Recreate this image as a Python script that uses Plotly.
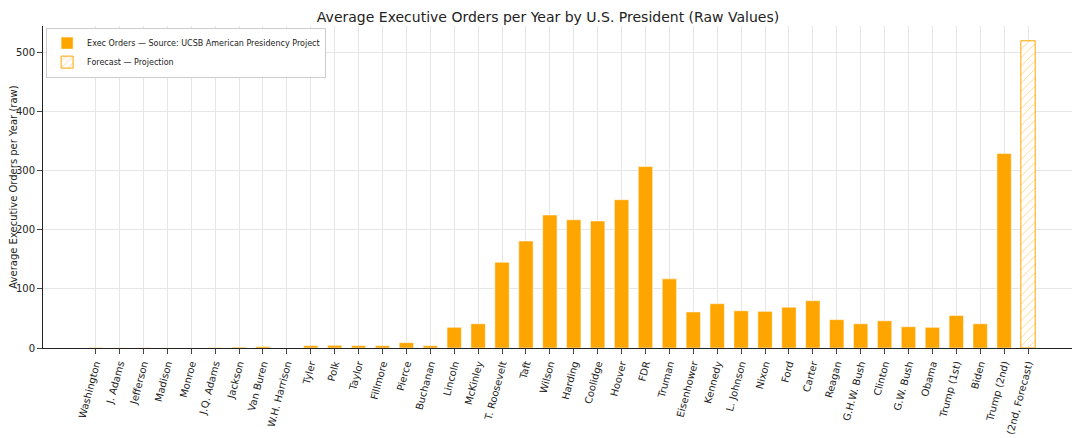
import plotly.graph_objects as go

presidents = ["Washington","J. Adams","Jefferson","Madison","Monroe","J.Q. Adams","Jackson","Van Buren","W.H. Harrison","Tyler","Polk","Taylor","Fillmore","Pierce","Buchanan","Lincoln","McKinley","T. Roosevelt","Taft","Wilson","Harding","Coolidge","Hoover","FDR","Truman","Eisenhower","Kennedy","L. Johnson","Nixon","Ford","Carter","Reagan","G.H.W. Bush","Clinton","G.W. Bush","Obama","Trump (1st)","Biden","Trump (2nd)"]
orders = [1,0.3,0.5,0.1,0.1,0.8,1.5,2.5,0,4,4.5,4,4,9,4,35,41,145,181,225,217,215,251,307,117,61,75,63,62,69,80,48,41,46,36,35,55,41,329]
forecast_label = ["Trump (2nd, Forecast)"]
forecast_value = [520]

fig = go.Figure()
fig.add_bar(x=presidents, y=orders, marker_color="#FFA500", width=0.6,
            name="Exec Orders — Source: UCSB American Presidency Project")
fig.add_bar(x=forecast_label, y=forecast_value, width=0.6,
            marker=dict(color="white", line=dict(color="#FFA500", width=1),
                        pattern=dict(shape="/", fgcolor="#FFA500", bgcolor="white", size=6, solidity=0.15)),
            name="Forecast — Projection")
fig.update_layout(
    width=1080, height=438, template="simple_white",
    font=dict(family="DejaVu Sans", size=10, color="#222"),
    title=dict(text="Average Executive Orders per Year by U.S. President (Raw Values)", x=0.5, y=0.99, font=dict(size=14)),
    margin=dict(l=35, r=5, t=18, b=98),
    barmode="overlay",
    legend=dict(x=0.003, y=0.995, xanchor="left", yanchor="top", bgcolor="white",
                bordercolor="#ccc", borderwidth=1, font=dict(size=8), tracegroupgap=0,
                itemwidth=30),
    yaxis=dict(title=dict(text="Average Executive Orders per Year (raw)", font=dict(size=10), standoff=4),
               range=[0, 545], tickvals=[0,100,200,300,400,500], showgrid=True, gridcolor="#e6e6e6",
               ticks="outside", zeroline=False, automargin=False),
    xaxis=dict(tickangle=-75, showgrid=True, gridcolor="#e6e6e6", ticks="outside",
               range=[-2.2, 41.3], automargin=False, tickfont=dict(size=10)),
)
fig.write_html("out.html")
